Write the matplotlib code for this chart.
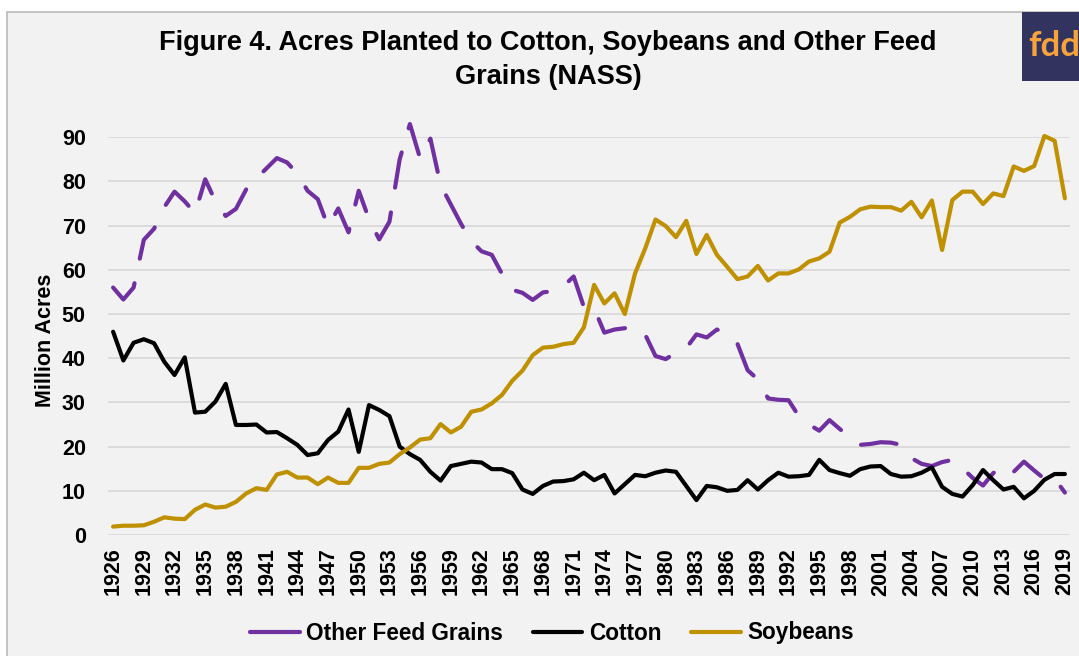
import matplotlib
matplotlib.use("Agg")
import matplotlib.pyplot as plt
from matplotlib.patches import Rectangle
from matplotlib.lines import Line2D

# ---- data (million acres planted) ----
years = list(range(1926, 2020))

other_feed_grains = [
    56.0, 53.3, 56.0, 66.8, 69.3, 74.2, 77.7, 75.5, 72.8, 80.5,
    75.5, 72.2, 73.8, 78.2, 80.7, 83.0, 85.3, 84.3, 81.8, 77.9,
    76.0, 69.8, 73.9, 68.5, 77.9, 71.5, 66.9, 70.9, 85.0, 93.0,
    85.2, 89.7, 79.2, 74.8, 70.4, 66.5, 64.2, 63.4, 59.1, 55.5,
    54.8, 53.2, 54.9, 55.2, 56.3, 58.5, 51.6, 51.3, 45.8, 46.5,
    46.8, 47.0, 45.3, 40.5, 39.8, 41.3, 42.3, 45.4, 44.7, 46.5,
    45.6, 43.3, 37.3, 35.2, 30.9, 30.6, 30.5, 26.9, 25.0, 23.6,
    26.0, 24.0, 22.1, 20.4, 20.6, 21.0, 20.9, 20.4, 17.4, 16.1,
    15.6, 16.5, 17.0, 15.1, 12.9, 11.2, 14.0, 15.8, 14.3, 16.6,
    14.6, 12.7, 12.8, 9.6,
]

cotton = [
    46.0, 39.5, 43.5, 44.3, 43.4, 39.2, 36.2, 40.2, 27.7, 27.9,
    30.2, 34.2, 24.9, 24.9, 25.0, 23.2, 23.3, 21.9, 20.4, 18.1,
    18.5, 21.5, 23.4, 28.4, 18.8, 29.4, 28.3, 26.9, 20.0, 18.3,
    17.0, 14.3, 12.3, 15.6, 16.1, 16.6, 16.4, 14.9, 14.9, 14.0,
    10.3, 9.3, 11.1, 12.1, 12.2, 12.6, 14.1, 12.4, 13.6, 9.4,
    11.5, 13.6, 13.3, 14.1, 14.6, 14.3, 11.1, 7.9, 11.1, 10.8,
    10.0, 10.2, 12.4, 10.3, 12.4, 14.1, 13.2, 13.3, 13.6, 17.0,
    14.7, 14.0, 13.4, 14.9, 15.5, 15.6, 13.8, 13.2, 13.3, 14.1,
    15.3, 10.9, 9.3, 8.7, 11.3, 14.7, 12.4, 10.3, 10.9, 8.3,
    10.0, 12.5, 13.8, 13.8,
]

soybeans = [
    1.9, 2.1, 2.1, 2.2, 3.0, 4.0, 3.7, 3.6, 5.7, 6.9,
    6.2, 6.4, 7.5, 9.4, 10.6, 10.2, 13.7, 14.3, 13.0, 13.0,
    11.5, 13.0, 11.8, 11.8, 15.2, 15.2, 16.1, 16.4, 18.3, 19.8,
    21.6, 21.9, 25.1, 23.2, 24.5, 27.9, 28.4, 29.8, 31.7, 34.9,
    37.2, 40.7, 42.4, 42.6, 43.2, 43.5, 47.0, 56.6, 52.4, 54.7,
    50.0, 59.2, 64.9, 71.4, 69.9, 67.4, 71.1, 63.6, 67.9, 63.4,
    60.7, 57.9, 58.5, 60.9, 57.6, 59.2, 59.2, 60.1, 61.9, 62.6,
    64.1, 70.7, 72.0, 73.7, 74.3, 74.2, 74.2, 73.4, 75.4, 71.9,
    75.7, 64.5, 75.8, 77.7, 77.7, 74.9, 77.3, 76.7, 83.4, 82.4,
    83.5, 90.3, 89.2, 76.2,
]

series_names = ["Other Feed Grains", "Cotton", "Soybeans"]
x_tick_years = list(range(1926, 2020, 3))
y_ticks = list(range(0, 100, 10))

title_text = "Figure 4. Acres Planted to Cotton, Soybeans and Other Feed\nGrains (NASS)"
y_label = "Million Acres"

# ---- style ----
PURPLE = "#7030A0"
BLACK = "#000000"
GOLD = "#BF9000"
PANEL = "#F2F2F2"
GRID = "#D9D9D9"
FONT = "Liberation Sans"

plt.rcParams["font.family"] = [FONT, "DejaVu Sans"]
plt.rcParams["font.weight"] = "bold"
plt.rcParams["lines.scale_dashes"] = False

W, H = 1079, 656
fig = plt.figure(figsize=(W / 100, H / 100), dpi=100)
fig.patch.set_facecolor("white")


def fx(px):
    return px / W


def fy(py):
    return 1 - py / H


# chart panel with thin border
fig.patches.append(Rectangle((fx(7), fy(668)), fx(1090) - fx(7), fy(12) - fy(668),
                             transform=fig.transFigure, facecolor=PANEL,
                             edgecolor="#BFBFBF", linewidth=1.3, zorder=-10))

# logo block in the corner
fig.patches.append(Rectangle((fx(1022), fy(81)), fx(1090) - fx(1022), fy(12) - fy(81),
                             transform=fig.transFigure, facecolor="#333360",
                             edgecolor="none", zorder=-9))
fig.text(fx(1028), fy(46), "fdd", color="#F7A33C", fontsize=25, fontweight="bold",
         family=["Lato", "DejaVu Sans"], ha="left", va="center", zorder=-8)

ax = fig.add_axes([fx(108), fy(535), fx(1070) - fx(108), fy(137.3) - fy(535)])
ax.set_facecolor("none")
ax.set_zorder(2)

ax.set_xlim(1925.5, 2019.5)
ax.set_ylim(0, 90)
ax.set_yticks(y_ticks[:10])
ax.set_xticks(x_tick_years)
ax.set_xticklabels([str(y) for y in x_tick_years], rotation=90, fontsize=15.5,
                   fontweight="bold")
ax.tick_params(axis="x", length=0, pad=9)
ax.tick_params(axis="y", length=0, pad=16, labelsize=15.5)
for lab in ax.get_yticklabels():
    lab.set_fontweight("bold")

ax.grid(axis="y", color=GRID, linewidth=1.3)
ax.set_axisbelow(True)
for s in ax.spines.values():
    s.set_visible(False)

lw = 3.0
common = dict(linewidth=lw, solid_capstyle="round", solid_joinstyle="round",
              dash_capstyle="round", dash_joinstyle="round", clip_on=False)
l1, = ax.plot(years, other_feed_grains, color=PURPLE, dashes=(25.8, 18.1),
              label=series_names[0], zorder=3, **common)
l2, = ax.plot(years, cotton, color=BLACK, label=series_names[1], zorder=4, **common)
l3, = ax.plot(years, soybeans, color=GOLD, label=series_names[2], zorder=5, **common)

ax.set_ylabel(y_label, fontsize=15.5, fontweight="bold")
ax.yaxis.set_label_coords(-0.054, 0.49)

fig.text(fx(548), fy(60), title_text, ha="center", va="center", fontsize=19.5,
         fontweight="bold", linespacing=1.38)

handles = [Line2D([], [], color=PURPLE, linewidth=lw, solid_capstyle="round"),
           Line2D([], [], color=BLACK, linewidth=lw, solid_capstyle="round"),
           Line2D([], [], color=GOLD, linewidth=lw, solid_capstyle="round")]
leg = fig.legend(handles, series_names, loc="center", bbox_to_anchor=(fx(552), fy(633)),
                 ncol=3, frameon=False, prop={"family": FONT, "weight": "bold", "size": 16.3},
                 handlelength=2.2, handletextpad=0.3, columnspacing=1.3)

fig.savefig("out.png", dpi=100, facecolor=fig.get_facecolor())
